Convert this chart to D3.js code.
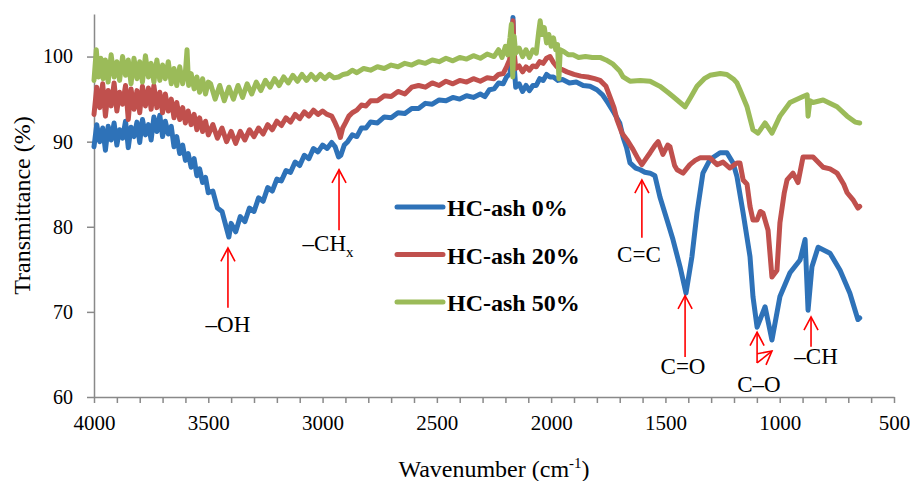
<!DOCTYPE html>
<html lang="en">
    <head>
        <meta charset="utf-8">
        <title>FTIR HC-ash</title>
        <script src="https://d3js.org/d3.v7.min.js"></script>
        <style type="text/css">
                body { margin: 0; background: #fff; }
                text { font-family: "Liberation Serif", "Times New Roman", serif; fill: #000; }
                .axis path, .axis line { fill: none; stroke: #898989; stroke-width: 1.5; }
                .axis text { font-size: 21px; }
                .series { fill: none; stroke-width: 5; stroke-linejoin: round; stroke-linecap: round; }
                .arrow { stroke: #ff0000; stroke-width: 1.6; fill: none; }
         </style>
    </head>
    <body>
        <script type="text/javascript">
        var w = 910;
        var h = 481;

        // series names and colours
        var seriesNames = ["HC-ash 0%", "HC-ash 20%", "HC-ash 50%"];
        var seriesColors = ["#2e72b8", "#c0504d", "#9bbb59"];

        var xTickValues = [4000, 3500, 3000, 2500, 2000, 1500, 1000, 500];
        var yTickValues = [60, 70, 80, 90, 100];

        // [wavenumber, transmittance %]
        var ash0 = [[4000,89.4],[3988,92.0],[3975,90.0],[3962,91.6],[3950,89.0],[3938,91.8],[3925,90.2],[3912,92.2],[3900,89.6],[3888,91.4],
            [3875,90.4],[3862,92.4],[3850,89.3],[3838,91.7],[3825,90.6],[3812,92.3],[3800,89.9],[3788,92.6],[3775,90.8],[3762,92.0],
            [3750,90.2],[3738,92.9],[3725,91.2],[3712,93.1],[3700,90.6],[3688,92.4],[3675,90.9],[3662,91.8],[3650,89.4],[3638,90.6],
            [3625,88.6],[3612,89.6],[3600,87.8],[3588,88.6],[3575,87.0],[3562,88.0],[3550,86.0],[3538,86.8],[3525,85.2],[3512,85.8],
            [3500,84.0],[3480,84.2],[3460,82.2],[3440,81.8],[3420,79.8],[3410,78.8],[3400,80.4],[3380,79.4],
            [3360,81.2],[3340,80.6],[3320,82.2],[3300,81.8],[3280,83.4],[3260,83.0],[3240,84.6],[3220,84.2],[3200,85.6],[3180,85.4],
            [3160,86.6],[3140,86.4],[3120,87.6],[3100,87.2],[3080,88.4],[3060,88.0],[3040,89.2],[3020,88.8],[3000,89.6],[2980,89.2],
            [2960,89.9],[2945,89.4],[2930,88.2],[2920,88.4],[2905,89.6],[2890,90.0],[2870,90.8],[2850,90.6],[2830,91.6],[2810,91.6],
            [2790,92.3],[2760,92.2],[2730,92.9],[2700,92.8],[2670,93.4],[2640,93.3],[2610,93.9],[2580,93.9],[2550,94.5],[2520,94.4],
            [2490,94.9],[2460,94.8],[2430,95.2],[2400,95.0],[2370,95.4],[2340,95.2],[2310,95.6],[2290,95.3],[2270,96.1],[2250,96.2],
            [2230,96.9],[2210,96.8],[2195,97.6],[2180,98.0],[2172,100.2],[2167,104.6],[2162,99.0],[2155,96.4],[2140,96.8],[2125,95.9],
            [2110,96.6],[2095,96.0],[2080,96.6],[2065,96.6],[2050,97.4],[2035,97.2],[2020,97.9],[2005,97.6],[1990,97.6],[1970,97.2],
            [1950,97.3],[1920,96.9],[1890,97.0],[1860,96.6],[1830,96.5],[1800,96.1],[1775,95.5],[1750,94.5],[1725,93.4],[1700,92.2],
            [1685,90.5],[1670,89.3],[1655,87.5],[1630,86.9],[1610,86.7],[1590,86.4],[1567,86.3],[1546,86.0],[1524,83.5],[1493,80.8],
            [1467,78.5],[1436,75.3],[1410,72.2],[1384,76.5],[1362,81.6],[1336,86.3],[1305,87.9],[1261,88.7],[1231,88.7],[1204,87.5],
            [1187,85.9],[1160,81.6],[1130,76.5],[1117,71.8],[1099,68.2],[1064,70.6],[1034,66.7],[999,71.8],[955,74.6],[911,76.1],
            [889,78.5],[876,70.2],[859,75.3],[832,77.6],[780,76.9],[736,74.9],[693,72.2],[658,69.1],[650,69.3]];

        var ash20 = [[4000,93.2],[3988,96.4],[3975,94.0],[3962,96.8],[3950,93.0],[3938,96.0],[3925,94.2],[3912,96.9],[3900,93.6],[3888,95.8],
            [3875,94.4],[3862,96.6],[3850,92.6],[3838,96.2],[3825,93.8],[3812,96.0],[3800,93.4],[3788,96.5],[3775,94.2],[3762,96.3],
            [3750,93.8],[3738,96.6],[3725,94.0],[3712,95.8],[3700,93.4],[3688,95.6],[3675,93.6],[3662,95.0],[3650,92.8],[3638,94.6],
            [3625,92.6],[3612,94.0],[3600,92.2],[3588,93.6],[3575,92.0],[3562,93.2],[3550,91.4],[3538,92.8],[3525,91.2],[3512,92.4],
            [3500,90.8],[3480,92.0],[3460,90.4],[3440,91.6],[3420,90.0],[3400,91.2],[3380,89.8],[3360,91.2],
            [3340,90.2],[3320,91.4],[3300,90.6],[3280,91.6],[3260,90.9],[3240,92.0],[3220,91.4],[3200,92.4],[3180,91.9],[3160,92.8],
            [3140,92.3],[3120,93.2],[3100,92.7],[3080,93.5],[3060,93.0],[3040,93.7],[3020,93.2],[3000,93.6],[2980,93.2],[2960,93.0],
            [2945,92.2],[2932,91.4],[2922,90.5],[2912,91.6],[2900,92.2],[2885,93.0],[2870,93.4],[2850,93.7],[2830,94.3],[2810,94.2],
            [2790,94.8],[2760,94.8],[2730,95.4],[2700,95.3],[2670,95.9],[2640,95.6],[2610,96.4],[2580,96.6],[2550,96.4],[2520,96.9],
            [2490,96.6],[2460,97.1],[2430,96.8],[2400,97.2],[2370,97.0],[2340,97.4],[2310,97.1],[2280,97.5],[2250,97.4],[2230,97.9],
            [2210,98.0],[2195,98.8],[2182,99.6],[2174,101.2],[2167,104.2],[2162,100.6],[2155,98.6],[2140,98.9],[2125,98.2],[2110,98.8],
            [2095,98.4],[2080,98.9],[2065,98.8],[2050,99.4],[2035,99.2],[2020,99.8],[2005,100.0],[1990,99.3],[1975,98.8],[1955,98.5],
            [1931,98.2],[1900,97.9],[1870,97.7],[1840,97.6],[1810,97.4],[1786,97.2],[1760,96.5],[1743,95.3],[1725,94.0],[1712,92.6],
            [1690,91.0],[1668,90.2],[1642,89.1],[1620,88.0],[1603,87.3],[1585,88.0],[1567,88.7],[1545,89.6],[1532,90.0],[1511,88.5],
            [1490,89.6],[1480,89.4],[1460,87.2],[1449,86.7],[1423,86.3],[1393,87.3],[1370,87.8],[1349,88.1],[1305,88.1],[1274,87.3],
            [1248,87.6],[1218,86.9],[1187,87.5],[1174,87.5],[1160,85.5],[1143,85.0],[1130,82.4],[1117,80.8],[1099,80.8],[1085,81.8],
            [1073,81.6],[1051,79.6],[1034,74.1],[1020,74.6],[1012,74.9],[999,80.5],[980,84.0],[968,85.5],[942,86.3],[920,85.2],
            [898,88.2],[854,88.2],[810,87.0],[780,86.8],[749,86.3],[720,85.0],[705,84.0],[680,83.2],[658,82.2],[650,82.4]];

        var ash50 = [[4000,97.2],[3990,100.8],[3980,97.6],[3970,99.8],[3960,97.4],[3950,99.6],[3938,97.0],[3925,100.2],[3912,97.6],[3900,99.4],
            [3888,97.2],[3875,100.0],[3862,97.8],[3850,99.6],[3838,96.8],[3825,99.8],[3812,97.4],[3800,99.4],[3788,97.0],[3775,100.1],
            [3762,97.6],[3750,99.2],[3738,97.0],[3725,99.6],[3712,97.2],[3700,99.0],[3688,97.4],[3675,99.4],[3662,96.8],[3650,98.6],
            [3638,96.6],[3625,98.8],[3612,96.8],[3600,98.2],[3593,100.8],[3586,96.6],[3575,98.0],[3562,96.2],[3550,97.6],[3538,95.8],
            [3525,97.4],[3512,95.6],[3500,97.0],[3490,96.8],[3470,95.0],[3450,96.6],[3430,94.8],[3410,96.4],
            [3390,95.0],[3370,96.6],[3350,95.2],[3330,96.8],[3310,95.6],[3290,97.0],[3270,96.0],[3250,97.2],[3230,96.4],[3210,97.4],
            [3190,96.6],[3170,97.6],[3150,96.9],[3130,97.8],[3110,97.1],[3090,97.9],[3070,97.2],[3050,97.9],[3030,97.3],[3010,97.9],
            [2990,97.4],[2970,97.9],[2950,97.5],[2930,97.6],[2910,97.9],[2890,98.0],[2870,98.4],[2850,98.1],[2820,98.6],[2790,98.4],
            [2760,98.8],[2730,98.6],[2700,99.0],[2670,98.8],[2640,99.2],[2610,99.0],[2580,99.4],[2550,99.2],[2520,99.6],[2490,99.4],
            [2460,99.8],[2430,99.5],[2400,99.9],[2370,99.7],[2340,100.1],[2310,99.8],[2280,100.3],[2250,100.0],[2230,100.8],[2215,99.9],
            [2200,101.2],[2190,100.2],[2180,102.2],[2174,103.8],[2168,97.6],[2162,102.4],[2155,100.4],[2140,101.0],[2125,100.0],[2110,100.8],
            [2095,99.9],[2080,100.8],[2065,100.4],[2055,102.8],[2048,104.2],[2040,102.6],[2030,103.4],[2020,101.6],[2010,102.6],[2000,101.2],
            [1990,102.2],[1980,100.8],[1972,101.4],[1966,97.4],[1960,100.8],[1945,100.6],[1925,100.2],[1904,100.2],[1880,99.9],[1850,100.0],
            [1820,99.9],[1786,99.9],[1760,99.6],[1729,99.1],[1700,98.3],[1685,97.6],[1655,97.1],[1610,97.2],[1567,97.1],[1524,96.5],
            [1490,95.8],[1467,95.3],[1414,94.1],[1390,95.2],[1362,96.5],[1330,97.4],[1305,97.8],[1260,98.0],[1231,97.9],[1200,97.3],
            [1187,96.9],[1174,96.1],[1143,94.1],[1117,91.4],[1095,91.0],[1064,92.2],[1034,91.0],[999,93.0],[955,94.6],[898,95.3],
            [880,95.5],[876,93.0],[868,94.8],[854,94.6],[810,94.9],[749,94.1],[705,93.0],[670,92.3],[650,92.2]];

        // peak labels: arrows go tail -> tip, in data units
        var peakLabels = ["–OH", "–CH", "C=C", "C=O", "C–O", "–CH"];
        var peakSubs = ["", "x", "", "", "", ""];
        var peakTextPos = [[3414,67.6], [2976,77.1], [1616,75.9], [1423,62.7], [1091,60.6], [841,63.9]];
        var peakArrows = [
            [[3414,70.5],[3414,77.5]],
            [[2928,79.6],[2928,86.7]],
            [[1603,78.7],[1603,85.5]],
            [[1414,64.7],[1414,71.9]],
            [[1099,64.0],[1099,67.6]],
            [[1099,64.0],[1034,65.4]],
            [[863,65.9],[863,69.4]]
        ];

        var margin = {left: 94, right: 16, top: 14, bottom: 84};

        var svg = d3.select("body")
                .append("svg")
                .attr("width", w)
                .attr("height", h);

        var x = d3.scaleLinear().domain([4000, 500]).range([margin.left, w - margin.right]);
        var y = d3.scaleLinear().domain([60, 105]).range([h - margin.bottom, margin.top]);

        // x axis, minor ticks every 100
        var xAxis = d3.axisBottom(x)
                .tickValues(d3.range(500, 4001, 100))
                .tickSize(6)
                .tickSizeOuter(0)
                .tickPadding(12)
                .tickFormat(function(d) { return xTickValues.indexOf(d) >= 0 ? d : ""; });

        svg.append("g")
                .attr("class", "axis")
                .attr("transform", "translate(0," + y(60) + ")")
                .call(xAxis);

        var yAxis = d3.axisLeft(y)
                .tickValues(yTickValues)
                .tickSize(7)
                .tickSizeOuter(0)
                .tickPadding(14);

        svg.append("g")
                .attr("class", "axis")
                .attr("transform", "translate(" + x(4000) + ",0)")
                .call(yAxis)
                .selectAll("text").style("font-size", "20px");

        var line = d3.line()
                .x(function(d) { return x(d[0]); })
                .y(function(d) { return y(d[1]); });

        var allSeries = [ash0, ash20, ash50];

        svg.selectAll("path.series")
                .data(allSeries)
                .enter()
                .append("path")
                .attr("class", "series")
                .attr("stroke", function(d, i) { return seriesColors[i]; })
                .attr("d", line);

        // axis titles
        var xt = svg.append("text")
                .attr("x", (x(4000) + x(500)) / 2)
                .attr("y", 477)
                .attr("text-anchor", "middle")
                .style("font-size", "24px")
                .text("Wavenumber (cm");
        xt.append("tspan").attr("dy", -9).style("font-size", "15px").text("-1");
        xt.append("tspan").attr("dy", 9).text(")");

        svg.append("text")
                .attr("transform", "translate(30," + (y(60) + y(105)) / 2 + ") rotate(-90)")
                .attr("text-anchor", "middle")
                .style("font-size", "24px")
                .text("Transmittance (%)");

        // legend
        var legend = svg.selectAll("g.legend")
                .data(seriesNames)
                .enter()
                .append("g")
                .attr("class", "legend")
                .attr("transform", function(d, i) { return "translate(397," + (207 + i * 47.5) + ")"; });

        legend.append("line")
                .attr("x1", 0).attr("x2", 46)
                .attr("stroke", function(d, i) { return seriesColors[i]; })
                .attr("stroke-width", 5)
                .attr("stroke-linecap", "round");

        legend.append("text")
                .attr("x", 50)
                .attr("y", 9)
                .style("font-size", "24px")
                .style("font-weight", "bold")
                .text(function(d) { return d; });

        // arrows
        var headLen = 15, headAng = 28 * Math.PI / 180;
        peakArrows.forEach(function(a) {
            var x1 = x(a[0][0]), y1 = y(a[0][1]), x2 = x(a[1][0]), y2 = y(a[1][1]);
            var ang = Math.atan2(y1 - y2, x1 - x2);
            svg.append("line").attr("class", "arrow")
                .attr("x1", x1).attr("y1", y1).attr("x2", x2).attr("y2", y2);
            svg.append("path").attr("class", "arrow")
                .attr("d", "M" + (x2 + headLen * Math.cos(ang - headAng)) + "," + (y2 + headLen * Math.sin(ang - headAng)) +
                    "L" + x2 + "," + y2 +
                    "L" + (x2 + headLen * Math.cos(ang + headAng)) + "," + (y2 + headLen * Math.sin(ang + headAng)));
        });

        var labels = svg.selectAll("text.peak")
                .data(peakLabels)
                .enter()
                .append("text")
                .attr("class", "peak")
                .attr("x", function(d, i) { return x(peakTextPos[i][0]); })
                .attr("y", function(d, i) { return y(peakTextPos[i][1]); })
                .attr("text-anchor", "middle")
                .style("font-size", "23px");
        labels.append("tspan").text(function(d) { return d; });
        labels.append("tspan")
                .attr("dy", 6)
                .style("font-size", "15px")
                .text(function(d, i) { return peakSubs[i]; });
        </script>
    </body>
</html>
